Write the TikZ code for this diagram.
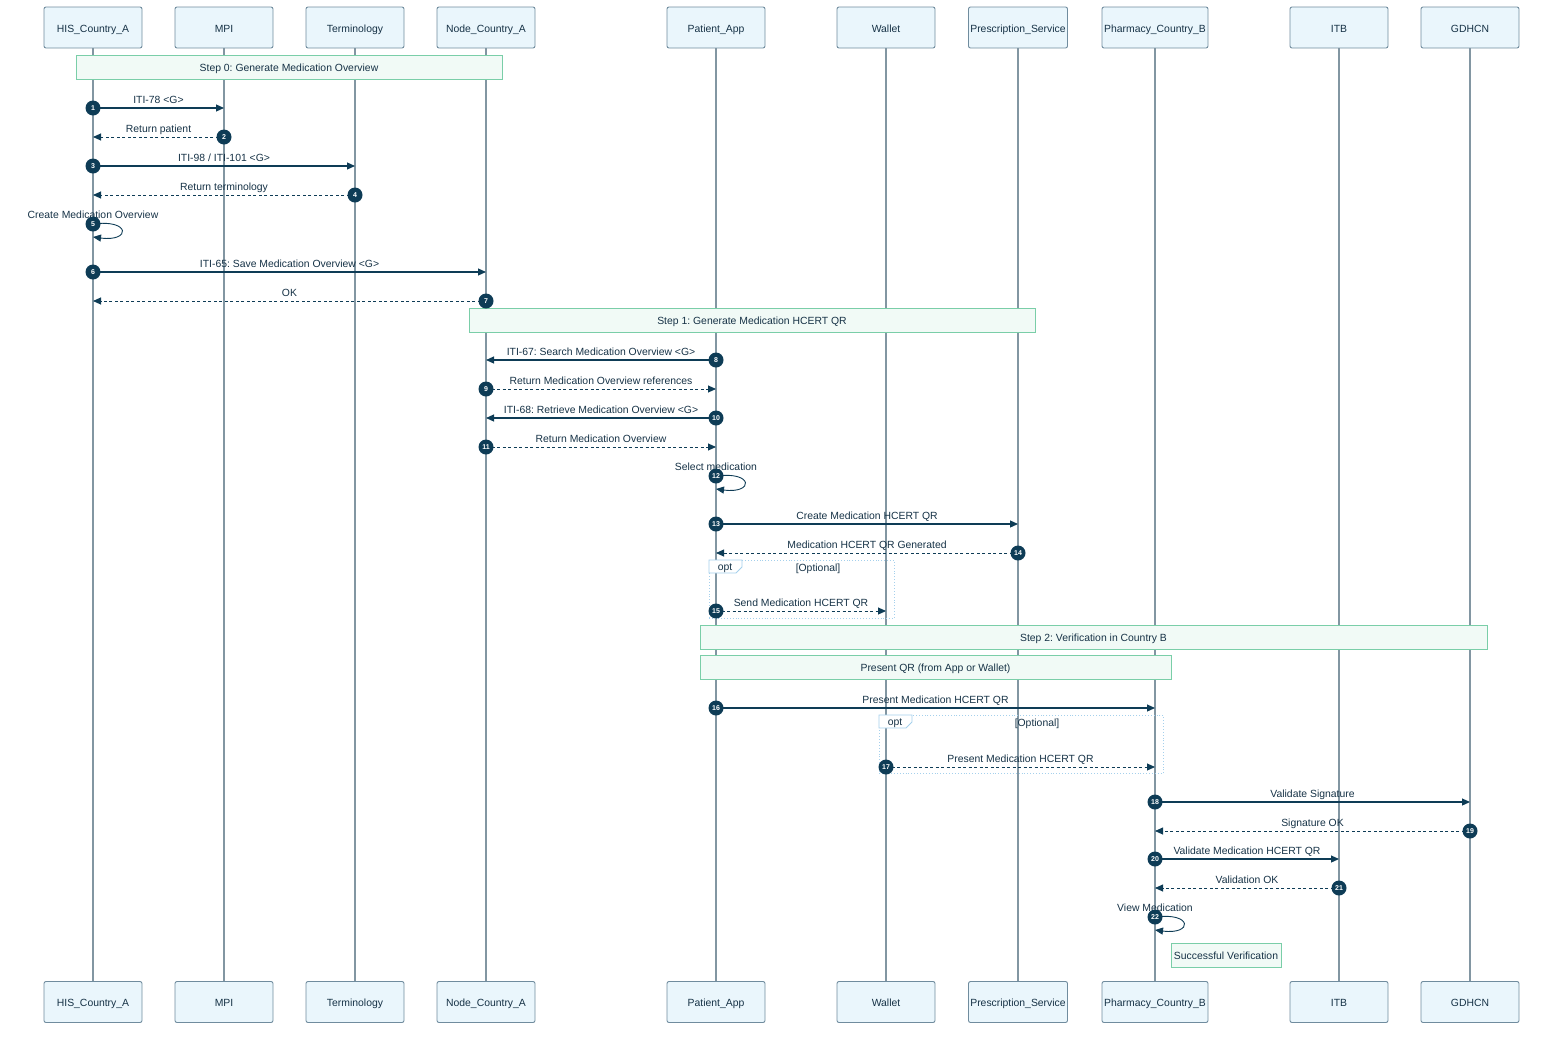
\documentclass[tikz,border=0pt]{standalone}
\usepackage{fontspec}
\setmainfont{Liberation Sans}
\usetikzlibrary{arrows.meta,calc}
\definecolor{actfill}{RGB}{234,246,252}
\definecolor{actdraw}{RGB}{112,140,158}
\definecolor{life}{RGB}{130,150,162}
\definecolor{msgc}{RGB}{14,60,86}
\definecolor{txt}{RGB}{22,50,70}
\definecolor{notefill}{RGB}{241,250,246}
\definecolor{notedraw}{RGB}{122,206,168}
\definecolor{optc}{RGB}{165,208,236}
\newcommand\lbl{\fontsize{10.4}{12}\selectfont\frenchspacing}
\tikzset{
 actor/.style={draw=actdraw, fill=actfill, rounded corners=2pt, minimum width=98pt, minimum height=41pt, line width=0.9pt, text=txt, font=\lbl, inner sep=1pt, text height=9.5pt, text depth=0pt},
 lifeline/.style={draw=life, line width=1.4pt},
 sync/.style={draw=msgc, line width=1.1pt, -{Triangle[length=8pt,width=7pt]}},
 reply/.style={sync, line width=0.9pt, dash pattern=on 3pt off 2.5pt},
 num/.style={circle, fill=msgc, text=white, minimum size=15pt, inner sep=0pt, font=\fontsize{7}{8}\selectfont\bfseries},
 mlabel/.style={text=txt, font=\lbl, inner sep=0pt, text height=7.5pt, text depth=2pt},
 notebox/.style={draw=notedraw, fill=notefill, line width=0.9pt, text=txt, font=\lbl, minimum height=24pt, inner sep=1pt, text height=9.5pt, text depth=0pt},
 optbox/.style={draw=optc, dotted, line width=0.9pt, inner sep=0pt},
 opttab/.style={draw=optc, fill=white, line width=0.8pt},
}
\newcommand\msgline[6]{%
 \coordinate (ms#1) at (#2 |- 0,#4);
 \coordinate (me#1) at (#3 |- 0,#4);
 \draw[#5] (ms#1) -- (me#1);
 \node[mlabel] (ml#1) at ($(ms#1)!0.5!(me#1)+(0,-7.5)$) {#6};
 \node[num] (n#1) at (ms#1) {#1};
}
\newcommand\selfmsg[4]{%
 \coordinate (ms#1) at (#2 |- 0,#3);
 \coordinate (me#1) at ($(ms#1)+(0,13)$);
 \draw[sync, line width=0.9pt] (ms#1) .. controls +(38,-5) and +(38,5) .. (me#1);
 \node[mlabel] (ml#1) at ($(ms#1)+(0,-8.5)$) {#4};
 \node[num] (n#1) at (ms#1) {#1};
}
\begin{document}
\begin{tikzpicture}[x=1pt,y=-1pt]
\useasboundingbox (0,0) rectangle (1568,1042);
% actors top
\node[actor] (HISt) at (93,27.5) {HIS\_Country\_A};
\node[actor] (MPIt) at (224,27.5) {MPI};
\node[actor] (TERt) at (355,27.5) {Terminology};
\node[actor] (NODt) at (486,27.5) {Node\_Country\_A};
\node[actor] (APPt) at (716,27.5) {Patient\_App};
\node[actor] (WALt) at (886,27.5) {Wallet};
\node[actor, minimum width=99pt] (PREt) at (1018,27.5) {Prescription\_Service};
\node[actor, minimum width=106pt] (PHAt) at (1155,27.5) {Pharmacy\_Country\_B};
\node[actor] (ITBt) at (1339,27.5) {ITB};
\node[actor] (GDHt) at (1470,27.5) {GDHCN};
% actors bottom
\node[actor] (HISb) at (93,1002) {HIS\_Country\_A};
\node[actor] (MPIb) at (224,1002) {MPI};
\node[actor] (TERb) at (355,1002) {Terminology};
\node[actor] (NODb) at (486,1002) {Node\_Country\_A};
\node[actor] (APPb) at (716,1002) {Patient\_App};
\node[actor] (WALb) at (886,1002) {Wallet};
\node[actor, minimum width=99pt] (PREb) at (1018,1002) {Prescription\_Service};
\node[actor, minimum width=106pt] (PHAb) at (1155,1002) {Pharmacy\_Country\_B};
\node[actor] (ITBb) at (1339,1002) {ITB};
\node[actor] (GDHb) at (1470,1002) {GDHCN};
% lifelines
\foreach \a in {HIS,MPI,TER,NOD,APP,WAL,PRE,PHA,ITB,GDH}{
 \draw[lifeline] (\a t.south) -- (\a b.north);
}
% notes
\node[notebox, minimum width=426pt] (note0) at (289,67) {Step 0: Generate Medication Overview};
\node[notebox, minimum width=566pt] (note1) at (752,320) {Step 1: Generate Medication HCERT QR};
\node[notebox, minimum width=787pt] (note2) at (1093.5,637) {Step 2: Verification in Country B};
\node[notebox, minimum width=471pt] (note3) at (935.5,667) {Present QR (from App or Wallet)};
\node[notebox, minimum width=110pt] (note4) at (1226,955) {Successful Verification};
% opt boxes
\node[optbox, minimum width=185pt, minimum height=58pt, anchor=north west] (opt1) at (709,560) {};
\draw[opttab] (opt1.north west) -- ++(33,0) -- ++(0,7) -- ++(-6,6) -- ++(-27,0) -- cycle;
\node[mlabel] (opt1t) at (725,568) {opt};
\node[mlabel] (opt1c) at (818,569) {[Optional]};
\node[optbox, minimum width=284pt, minimum height=58pt, anchor=north west] (opt2) at (879,715) {};
\draw[opttab] (opt2.north west) -- ++(33,0) -- ++(0,7) -- ++(-6,6) -- ++(-27,0) -- cycle;
\node[mlabel] (opt2t) at (895,723) {opt};
\node[mlabel] (opt2c) at (1037,724) {[Optional]};
% messages
\msgline{1}{HISt}{MPIt}{108}{sync}{ITI-78 <G>}
\msgline{2}{MPIt}{HISt}{137}{reply}{Return patient}
\msgline{3}{HISt}{TERt}{166}{sync}{ITI-98 / ITI-101 <G>}
\msgline{4}{TERt}{HISt}{195}{reply}{Return terminology}
\selfmsg{5}{HISt}{224}{Create Medication Overview}
\msgline{6}{HISt}{NODt}{272}{sync}{ITI-65: Save Medication Overview <G>}
\msgline{7}{NODt}{HISt}{301}{reply}{OK}
\msgline{8}{APPt}{NODt}{360}{sync}{ITI-67: Search Medication Overview <G>}
\msgline{9}{NODt}{APPt}{389}{reply}{Return Medication Overview references}
\msgline{10}{APPt}{NODt}{418}{sync}{ITI-68: Retrieve Medication Overview <G>}
\msgline{11}{NODt}{APPt}{447}{reply}{Return Medication Overview}
\selfmsg{12}{APPt}{476}{Select medication}
\msgline{13}{APPt}{PREt}{524}{sync}{Create Medication HCERT QR}
\msgline{14}{PREt}{APPt}{553}{reply}{Medication HCERT QR Generated}
\msgline{15}{APPt}{WALt}{611}{reply}{Send Medication HCERT QR}
\msgline{16}{APPt}{PHAt}{708}{sync}{Present Medication HCERT QR}
\msgline{17}{WALt}{PHAt}{767}{reply}{Present Medication HCERT QR}
\msgline{18}{PHAt}{GDHt}{802}{sync}{Validate Signature}
\msgline{19}{GDHt}{PHAt}{831}{reply}{Signature OK}
\msgline{20}{PHAt}{ITBt}{859}{sync}{Validate Medication HCERT QR}
\msgline{21}{ITBt}{PHAt}{888}{reply}{Validation OK}
\selfmsg{22}{PHAt}{917}{View Medication}
\end{tikzpicture}
\end{document}
